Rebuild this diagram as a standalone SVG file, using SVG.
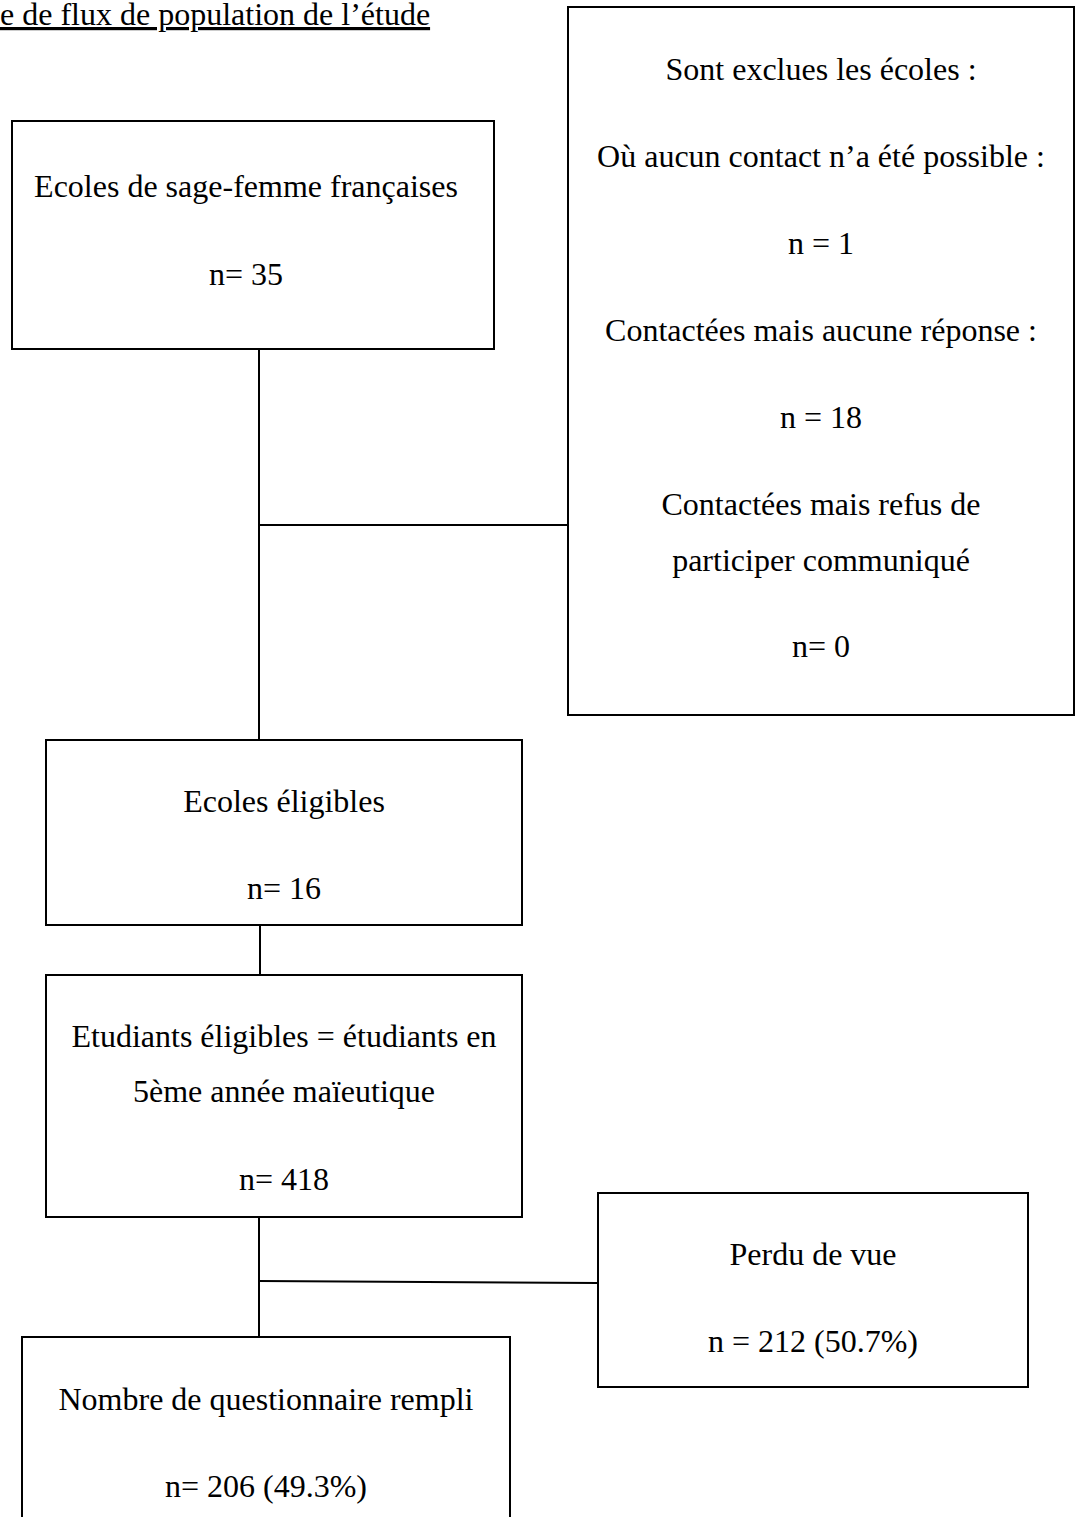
<svg xmlns="http://www.w3.org/2000/svg" width="1083" height="1517" viewBox="0 0 1083 1517">
<style>
.box{fill:#fff;stroke:#000;stroke-width:2}
.ln{fill:none;stroke:#000;stroke-width:2}
text{font-family:"Liberation Serif","Times New Roman",serif;font-size:32px;fill:#000;text-anchor:middle}
.title{text-anchor:start;text-decoration:underline}
</style>
<rect width="1083" height="1517" fill="#fff"/>
<text class="title" x="0" y="25">e de flux de population de l’étude</text>
<g id="connectors">
<line class="ln" x1="259" y1="349" x2="259" y2="740"/>
<line class="ln" x1="259" y1="525" x2="568" y2="525"/>
<line class="ln" x1="260" y1="925" x2="260" y2="975"/>
<line class="ln" x1="259" y1="1217" x2="259" y2="1337"/>
<line class="ln" x1="259" y1="1281" x2="598" y2="1283"/>
</g>
<g id="n1">
<rect class="box" x="12" y="121" width="482" height="228"/>
<text x="246" y="197">Ecoles de sage-femme françaises</text>
<text x="246" y="285">n= 35</text>
</g>
<g id="n2">
<rect class="box" x="568" y="7" width="506" height="708"/>
<text x="821" y="80">Sont exclues les écoles :</text>
<text x="821" y="167">Où aucun contact n’a été possible :</text>
<text x="821" y="254">n = 1</text>
<text x="821" y="341">Contactées mais aucune réponse :</text>
<text x="821" y="428">n = 18</text>
<text x="821" y="515">Contactées mais refus de</text>
<text x="821" y="571">participer communiqué</text>
<text x="821" y="657">n= 0</text>
</g>
<g id="n3">
<rect class="box" x="46" y="740" width="476" height="185"/>
<text x="284" y="812">Ecoles éligibles</text>
<text x="284" y="899">n= 16</text>
</g>
<g id="n4">
<rect class="box" x="46" y="975" width="476" height="242"/>
<text x="284" y="1047">Etudiants éligibles = étudiants en</text>
<text x="284" y="1102">5ème année maïeutique</text>
<text x="284" y="1190">n= 418</text>
</g>
<g id="n5">
<rect class="box" x="598" y="1193" width="430" height="194"/>
<text x="813" y="1265">Perdu de vue</text>
<text x="813" y="1352">n = 212 (50.7%)</text>
</g>
<g id="n6">
<rect class="box" x="22" y="1337" width="488" height="200"/>
<text x="266" y="1410">Nombre de questionnaire rempli</text>
<text x="266" y="1497">n= 206 (49.3%)</text>
</g>
</svg>
